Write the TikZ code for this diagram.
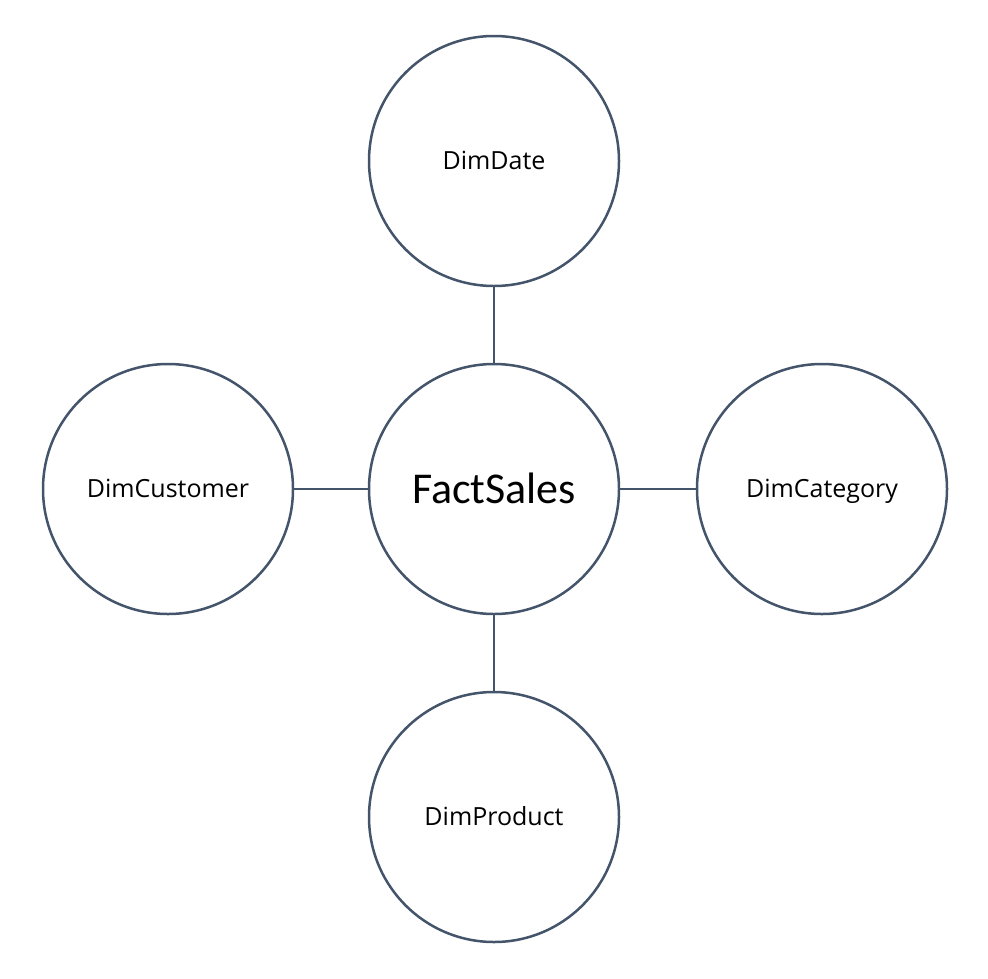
\documentclass[tikz,border=0pt]{standalone}
\usepackage{fontspec}
\setmainfont{Carlito}
\newfontfamily\labelfont{Open Sans}
\definecolor{edge}{HTML}{44546A}
\begin{document}
\begin{tikzpicture}[x=1pt,y=-1pt,
  dim/.style={circle,draw=edge,line width=2.5pt,minimum size=250pt,inner sep=0pt,
    text height=17.8pt,text depth=0pt,font=\labelfont\fontsize{25}{30}\selectfont},
  link/.style={draw=edge,line width=2.5pt}]
\useasboundingbox (0,0) rectangle (988,978);
\node[dim] (date) at (494,161) {DimDate};
\node[dim,font=\fontsize{44}{50}\selectfont,text height=29pt] (fact) at (494,489) {FactSales};
\node[dim] (cust) at (168,489) {DimCustomer};
\node[dim] (cat) at (822,489) {DimCategory};
\node[dim] (prod) at (494,817) {DimProduct};
\draw[link] (date) -- (fact);
\draw[link] (cust) -- (fact);
\draw[link] (fact) -- (cat);
\draw[link] (fact) -- (prod);
\end{tikzpicture}
\end{document}
